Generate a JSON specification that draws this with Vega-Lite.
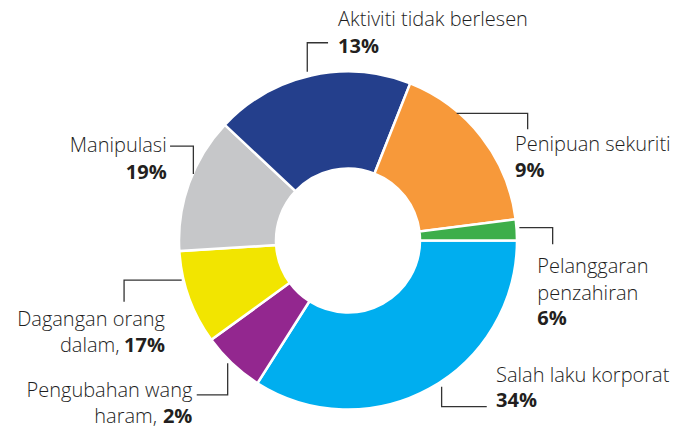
{
  "$schema": "https://vega.github.io/schema/vega-lite/v6.json",
  "width": 680,
  "height": 381,
  "autosize": "none",
  "padding": {"left": 8, "top": 50, "right": 0, "bottom": 0},
  "background": "white",
  "config": {"view": {"stroke": null}},
  "datasets": {
    "slices": [
      {"segment": "Salah laku korporat", "value": 34, "order": 1},
      {"segment": "Pengubahan wang haram", "value": 6, "order": 2},
      {"segment": "Dagangan orang dalam", "value": 9, "order": 3},
      {"segment": "Manipulasi", "value": 13, "order": 4},
      {"segment": "Aktiviti tidak berlesen", "value": 19, "order": 5},
      {"segment": "Penipuan sekuriti", "value": 17, "order": 6},
      {"segment": "Pelanggaran penzahiran", "value": 2, "order": 7}
    ],
    "leaders": [
      {"label": "Aktiviti", "step": 1, "u": -0.241, "v": 0.999},
      {"label": "Aktiviti", "step": 2, "u": -0.241, "v": 1.170},
      {"label": "Aktiviti", "step": 3, "u": -0.118, "v": 1.170},
      {"label": "Penipuan", "step": 1, "u": 0.643, "v": 0.752},
      {"label": "Penipuan", "step": 2, "u": 1.063, "v": 0.752},
      {"label": "Penipuan", "step": 3, "u": 1.063, "v": 0.658},
      {"label": "Pelanggaran", "step": 1, "u": 1.014, "v": 0.076},
      {"label": "Pelanggaran", "step": 2, "u": 1.211, "v": 0.076},
      {"label": "Pelanggaran", "step": 3, "u": 1.211, "v": -0.022},
      {"label": "Salah", "step": 1, "u": 0.554, "v": -0.865},
      {"label": "Salah", "step": 2, "u": 0.554, "v": -0.983},
      {"label": "Salah", "step": 3, "u": 0.821, "v": -0.983},
      {"label": "Pengubahan", "step": 1, "u": -0.712, "v": -0.727},
      {"label": "Pengubahan", "step": 2, "u": -0.712, "v": -0.914},
      {"label": "Pengubahan", "step": 3, "u": -0.895, "v": -0.914},
      {"label": "Dagangan", "step": 1, "u": -0.984, "v": -0.234},
      {"label": "Dagangan", "step": 2, "u": -1.325, "v": -0.234},
      {"label": "Dagangan", "step": 3, "u": -1.325, "v": -0.362},
      {"label": "Manipulasi", "step": 1, "u": -1.053, "v": 0.559},
      {"label": "Manipulasi", "step": 2, "u": -0.915, "v": 0.559},
      {"label": "Manipulasi", "step": 3, "u": -0.915, "v": 0.393}
    ],
    "labels": [
      {"text": "Aktiviti tidak berlesen", "kind": "name", "side": "left", "u": -0.059, "v": 1.269},
      {"text": "13%", "kind": "pct", "side": "left", "u": -0.059, "v": 1.108},
      {"text": "Penipuan sekuriti", "kind": "name", "side": "left", "u": 0.988, "v": 0.531},
      {"text": "9%", "kind": "pct", "side": "left", "u": 0.988, "v": 0.374},
      {"text": "Pelanggaran", "kind": "name", "side": "left", "u": 1.120, "v": -0.194},
      {"text": "penzahiran", "kind": "name", "side": "left", "u": 1.120, "v": -0.352},
      {"text": "6%", "kind": "pct", "side": "left", "u": 1.120, "v": -0.500},
      {"text": "Salah laku korporat", "kind": "name", "side": "left", "u": 0.876, "v": -0.836},
      {"text": "34%", "kind": "pct", "side": "left", "u": 0.876, "v": -0.983},
      {"text": "Manipulasi", "kind": "name", "side": "right", "u": -1.073, "v": 0.525},
      {"text": "19%", "kind": "pct", "side": "right", "u": -1.073, "v": 0.362},
      {"text": "Dagangan orang", "kind": "name", "side": "right", "u": -1.083, "v": -0.506},
      {"text": "dalam,", "kind": "name", "side": "right", "u": -1.352, "v": -0.658},
      {"text": "17%", "kind": "pct", "side": "right", "u": -1.083, "v": -0.658},
      {"text": "Pengubahan wang", "kind": "name", "side": "right", "u": -0.921, "v": -0.924},
      {"text": "haram,", "kind": "name", "side": "right", "u": -1.130, "v": -1.082},
      {"text": "2%", "kind": "pct", "side": "right", "u": -0.921, "v": -1.082}
    ]
  },
  "layer": [
    {
      "data": {"name": "slices"},
      "mark": {"type": "arc", "outerRadius": 169, "innerRadius": 72, "stroke": "white", "strokeWidth": 2.5},
      "encoding": {
        "theta": {"field": "value", "type": "quantitative", "stack": true, "scale": {"range": [1.5708, 7.854]}},
        "order": {"field": "order", "type": "quantitative"},
        "color": {
          "field": "segment", "type": "nominal", "legend": null,
          "scale": {
            "domain": ["Salah laku korporat", "Pengubahan wang haram", "Dagangan orang dalam", "Manipulasi", "Aktiviti tidak berlesen", "Penipuan sekuriti", "Pelanggaran penzahiran"],
            "range": ["#00AEEF", "#93278F", "#F2E500", "#C6C7C9", "#243F8C", "#F7993A", "#3DAE4A"]
          }
        }
      }
    },
    {
      "data": {"name": "leaders"},
      "mark": {"type": "line", "stroke": "#333333", "strokeWidth": 1.3, "interpolate": "linear"},
      "encoding": {
        "x": {"field": "u", "type": "quantitative", "axis": null, "scale": {"domain": [-2.01183, 2.01183], "nice": false, "zero": false}},
        "y": {"field": "v", "type": "quantitative", "axis": null, "scale": {"domain": [-1.12722, 1.12722], "nice": false, "zero": false}},
        "detail": {"field": "label", "type": "nominal"},
        "order": {"field": "step", "type": "quantitative"}
      }
    },
    {
      "data": {"name": "labels"},
      "transform": [{"filter": "datum.kind === 'name' && datum.side === 'left'"}],
      "mark": {"type": "text", "align": "left", "baseline": "alphabetic", "font": "Open Sans", "fontSize": 20, "fontWeight": 300, "color": "#1E1E1E"},
      "encoding": {
        "x": {"field": "u", "type": "quantitative", "axis": null, "scale": {"domain": [-2.01183, 2.01183], "nice": false, "zero": false}},
        "y": {"field": "v", "type": "quantitative", "axis": null, "scale": {"domain": [-1.12722, 1.12722], "nice": false, "zero": false}},
        "text": {"field": "text", "type": "nominal"}
      }
    },
    {
      "data": {"name": "labels"},
      "transform": [{"filter": "datum.kind === 'pct' && datum.side === 'left'"}],
      "mark": {"type": "text", "align": "left", "baseline": "alphabetic", "font": "Open Sans", "fontSize": 20, "fontWeight": "bold", "color": "#231F20"},
      "encoding": {
        "x": {"field": "u", "type": "quantitative", "axis": null, "scale": {"domain": [-2.01183, 2.01183], "nice": false, "zero": false}},
        "y": {"field": "v", "type": "quantitative", "axis": null, "scale": {"domain": [-1.12722, 1.12722], "nice": false, "zero": false}},
        "text": {"field": "text", "type": "nominal"}
      }
    },
    {
      "data": {"name": "labels"},
      "transform": [{"filter": "datum.kind === 'name' && datum.side === 'right'"}],
      "mark": {"type": "text", "align": "right", "baseline": "alphabetic", "font": "Open Sans", "fontSize": 20, "fontWeight": 300, "color": "#1E1E1E"},
      "encoding": {
        "x": {"field": "u", "type": "quantitative", "axis": null, "scale": {"domain": [-2.01183, 2.01183], "nice": false, "zero": false}},
        "y": {"field": "v", "type": "quantitative", "axis": null, "scale": {"domain": [-1.12722, 1.12722], "nice": false, "zero": false}},
        "text": {"field": "text", "type": "nominal"}
      }
    },
    {
      "data": {"name": "labels"},
      "transform": [{"filter": "datum.kind === 'pct' && datum.side === 'right'"}],
      "mark": {"type": "text", "align": "right", "baseline": "alphabetic", "font": "Open Sans", "fontSize": 20, "fontWeight": "bold", "color": "#231F20"},
      "encoding": {
        "x": {"field": "u", "type": "quantitative", "axis": null, "scale": {"domain": [-2.01183, 2.01183], "nice": false, "zero": false}},
        "y": {"field": "v", "type": "quantitative", "axis": null, "scale": {"domain": [-1.12722, 1.12722], "nice": false, "zero": false}},
        "text": {"field": "text", "type": "nominal"}
      }
    }
  ]
}
